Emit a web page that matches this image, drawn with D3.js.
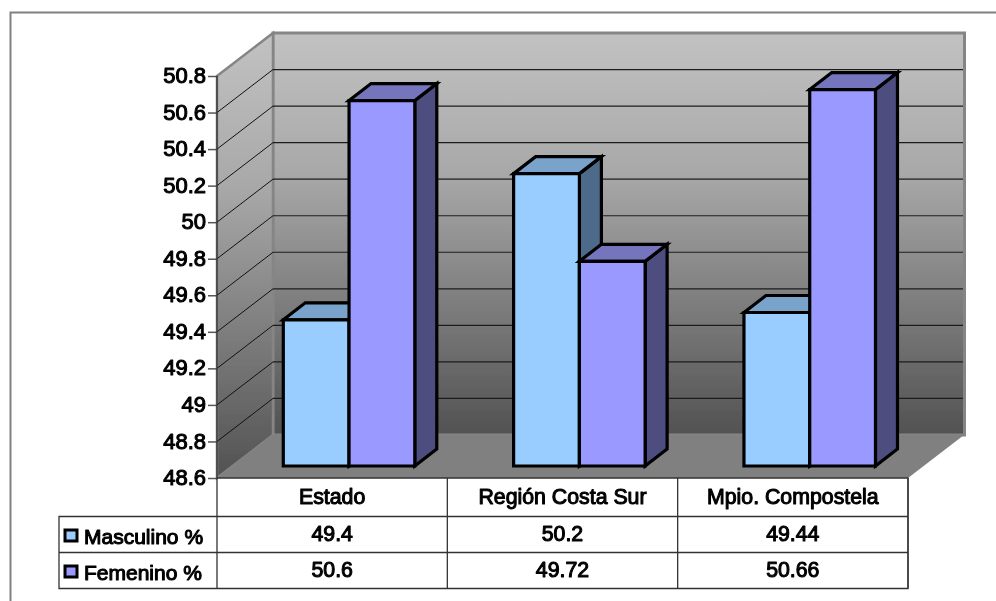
<!DOCTYPE html>
<html><head><meta charset="utf-8">
<script src="https://cdn.jsdelivr.net/npm/d3@7/dist/d3.min.js"></script>
<style>html,body{margin:0;padding:0;background:#fff}svg{display:block}
text{font-family:"Liberation Sans",Arial,sans-serif;fill:#000;stroke:#000;stroke-width:1.05px;stroke-linejoin:round}</style>
</head><body><svg id="c" width="996" height="601"></svg>
<script>
const categories = ["Estado", "Región Costa Sur", "Mpio. Compostela"];
const seriesNames = ["Masculino %", "Femenino %"];
const masculino = [49.4, 50.2, 49.44];
const femenino = [50.6, 49.72, 50.66];
const masculinoLabels = ["49.4", "50.2", "49.44"];
const femeninoLabels = ["50.6", "49.72", "50.66"];
const tickValues = [48.6, 48.8, 49, 49.2, 49.4, 49.6, 49.8, 50, 50.2, 50.4, 50.6, 50.8];
const tickLabels = ["48.6", "48.8", "49", "49.2", "49.4", "49.6", "49.8", "50", "50.2", "50.4", "50.6", "50.8"];
const faceFront = ["#99ccff", "#9999ff"];
const faceTop = ["#7aa3cc", "#7474bd"];
const faceSide = ["#4d6a8a", "#4d4d80"];

const svg = d3.select("#c");
const L = 217, R = 908, B = 478, T = 76, DX = 56, DY = 43;
const y = d3.scaleLinear().domain([48.6, 50.8]).range([B, T]);
const xCat = d3.scaleBand().domain(categories).range([L, R]);
const xSer = d3.scaleBand().domain(seriesNames).range([49.5, 49.5 + 131.5]);

const defs = svg.append("defs");
const g = defs.append("linearGradient").attr("id", "wall").attr("x1", 0).attr("y1", 0).attr("x2", 0).attr("y2", 1);
g.append("stop").attr("offset", 0).attr("stop-color", "#c2c2c2");
g.append("stop").attr("offset", .35).attr("stop-color", "#a8a8a8");
g.append("stop").attr("offset", 1).attr("stop-color", "#525252");
defs.append("filter").attr("id", "soft").attr("x", 0).attr("y", 0).attr("width", 1).attr("height", 1)
  .append("feGaussianBlur").attr("stdDeviation", .4);

const root = svg.append("g").attr("filter", "url(#soft)");
root.append("rect").attr("width", 996).attr("height", 601).attr("fill", "#fff");
root.append("path").attr("d", "M10.5,601V12.5H996").attr("fill", "none").attr("stroke", "#808080").attr("stroke-width", 2);

const poly = pts => "M" + pts.map(p => p.join(",")).join("L") + "Z";
// walls
root.append("path").attr("d", poly([[L + DX, T - DY], [R + DX + .5, T - DY], [R + DX + .5, B - DY], [L + DX, B - DY]]))
  .attr("fill", "url(#wall)").attr("stroke", "#858585").attr("stroke-width", 3);
root.append("path").attr("d", poly([[L, T], [L + DX, T - DY], [L + DX, B - DY], [L, B]]))
  .attr("fill", "url(#wall)").attr("stroke", "#858585").attr("stroke-width", 2.5);
root.append("path").attr("d", poly([[L, B], [R, B], [R + DX, B - DY], [L + DX, B - DY]])).attr("fill", "#808080");

// gridlines
root.selectAll(".gb").data(tickValues.slice(1, -1)).join("line")
  .attr("x1", L + DX).attr("x2", R + DX - 1)
  .attr("y1", d => y(d) - DY).attr("y2", d => y(d) - DY)
  .attr("stroke", "#1c1c1c").attr("stroke-width", 1.2);
root.selectAll(".gs").data(tickValues.slice(1, -1)).join("line")
  .attr("x1", L).attr("x2", L + DX)
  .attr("y1", d => y(d)).attr("y2", d => y(d) - DY)
  .attr("stroke", "#111").attr("stroke-width", 1);

// bars
const BDX = 22, BDY = 17, baseDx = 16.8, baseDy = 12;
categories.forEach((c, ci) => {
  [masculino, femenino].forEach((vals, si) => {
    const x0 = xCat(c) + xSer(seriesNames[si]) + baseDx;
    const x1 = x0 + xSer.bandwidth();
    const yt = y(vals[ci]) - baseDy;
    const yb = y.range()[0] - baseDy;
    const bar = root.append("g").attr("stroke", "#000").attr("stroke-width", 3.2).attr("stroke-linejoin", "miter");
    bar.append("path").attr("d", poly([[x1, yt], [x1 + BDX, yt - BDY], [x1 + BDX, yb - BDY], [x1, yb]])).attr("fill", faceSide[si]);
    bar.append("path").attr("d", poly([[x0, yt], [x0 + BDX, yt - BDY], [x1 + BDX, yt - BDY], [x1, yt]])).attr("fill", faceTop[si]);
    bar.append("path").attr("d", poly([[x0, yt], [x1, yt], [x1, yb], [x0, yb]])).attr("fill", faceFront[si]);
  });
});

// y axis
const axis = d3.axisLeft(y).tickValues(tickValues).tickSize(9).tickPadding(2)
  .tickFormat((d, i) => tickLabels[i]);
const ax = root.append("g").attr("transform", `translate(${L},0)`).call(axis);
ax.select(".domain").remove();
ax.selectAll("line").attr("stroke", "#555").attr("stroke-width", 1.5);
ax.selectAll("text").attr("font-size", 22).attr("font-family", '"Liberation Sans",Arial,sans-serif').attr("fill", "#000").attr("dy", "0.3em");

// data table
const rows = [B, 516.5, 552.5, 588.5];
const tbl = root.append("g").attr("stroke", "#333").attr("stroke-width", 1.3).attr("fill", "none");
tbl.append("path").attr("d", `M${L},${rows[0]}H${R}V${rows[3]}H59V${rows[1]}H${R}M59,${rows[2]}H${R}M${L},${T}V${rows[3]}`);
categories.forEach(c => {
  tbl.append("line").attr("x1", xCat(c) + xCat.bandwidth()).attr("x2", xCat(c) + xCat.bandwidth()).attr("y1", rows[0]).attr("y2", rows[3]);
});
const tableRows = [categories, masculinoLabels, femeninoLabels];
const rowBase = [504, 541, 577];
tableRows.forEach((labels, r) => {
  root.selectAll(".t" + r).data(labels).join("text")
    .attr("x", (d, i) => xCat(categories[i]) + xCat.bandwidth() / 2)
    .attr("y", rowBase[r]).attr("text-anchor", "middle").attr("font-size", 21.3).text(d => d);
});
seriesNames.forEach((s, i) => {
  root.append("rect").attr("x", 65).attr("y", 530 + i * 36).attr("width", 12).attr("height", 11)
    .attr("fill", faceFront[i]).attr("stroke", "#000").attr("stroke-width", 3);
  root.append("text").attr("x", 84).attr("y", 543.5 + i * 36).attr("font-size", 21).text(s);
});
</script></body></html>
